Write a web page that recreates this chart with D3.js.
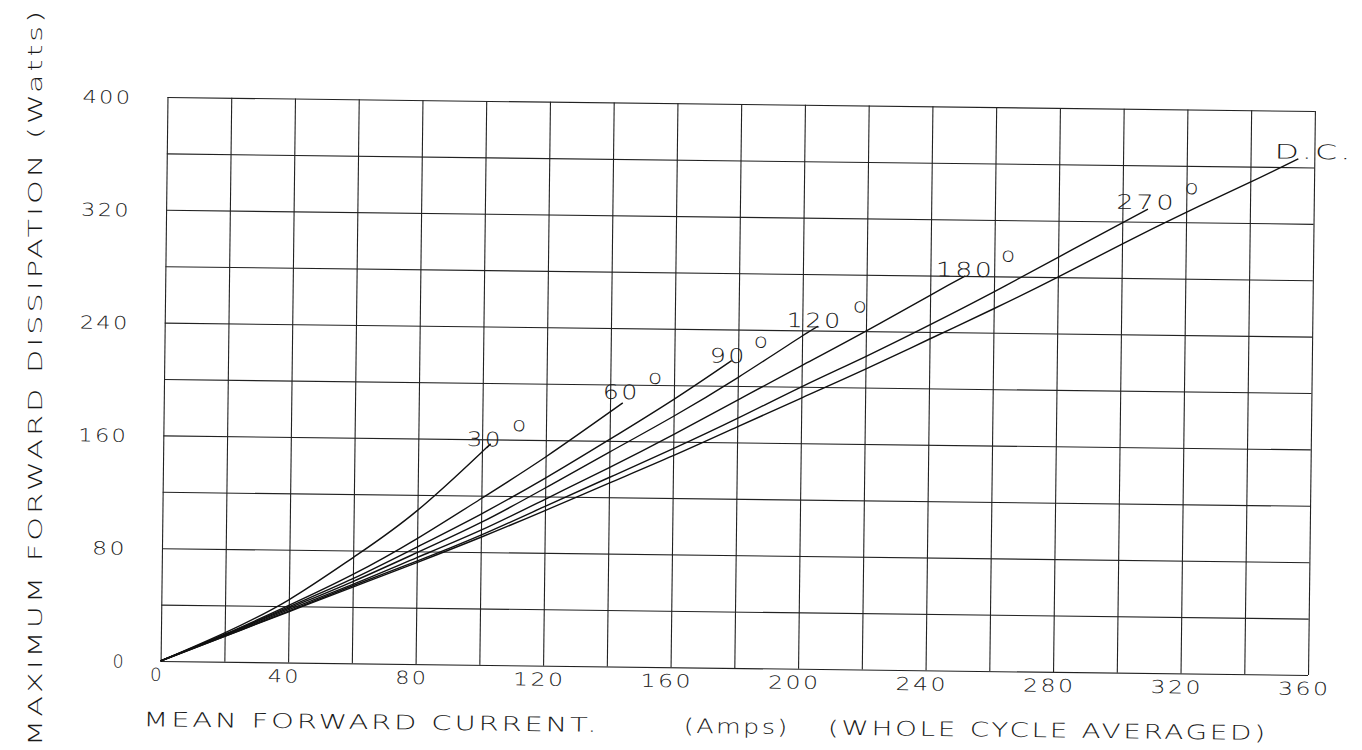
<!DOCTYPE html>
<html lang="en">
<head>
  <meta charset="UTF-8">
  <title>Maximum Forward Dissipation</title>
  <script src="https://d3js.org/d3.v7.min.js"></script>
  <style>
    body { margin: 0; background: #fff; }
    text { font-family: "DejaVu Sans", sans-serif; font-weight: 200; fill: #1a1a1a; }
  </style>
</head>
<body>
  <svg id="chart" width="1362" height="750"></svg>
  <script>
    // grid and tick values
    const xGridValues = [0, 20, 40, 60, 80, 100, 120, 140, 160, 180, 200, 220, 240, 260, 280, 300, 320, 340, 360];
    const yGridValues = [0, 40, 80, 120, 160, 200, 240, 280, 320, 360, 400];
    const xTickLabels = [0, 40, 80, 120, 160, 200, 240, 280, 320, 360];
    const yTickLabels = [0, 80, 160, 240, 320, 400];

    // curves: [mean current (A), dissipation (W)]
    const curve30 = [[0, 0], [20, 20.5], [40, 44.5], [60, 75], [80, 109], [100, 151], [101.5, 154]];
    const curve60 = [[0, 0], [20, 19.5], [40, 40.5], [60, 63], [80, 89], [100, 118], [120, 148], [144, 187]];
    const curve90 = [[0, 0], [20, 19], [40, 39.5], [60, 60], [80, 83], [100, 107], [120, 133], [140, 161], [160, 190], [178, 218]];
    const curve120 = [[0, 0], [20, 19], [40, 38.5], [60, 58], [80, 79], [100, 101], [120, 126], [140, 152], [160, 178], [180, 206], [200, 236], [205, 243]];
    const curve180 = [[0, 0], [20, 18.5], [40, 37.5], [60, 56], [80, 75.5], [100, 95.5], [120, 118], [140, 141], [160, 165], [180, 190], [200, 215], [220, 240], [240, 266], [251, 280]];
    const curve270 = [[0, 0], [20, 18], [40, 36.5], [60, 55], [80, 73], [100, 92], [120, 113], [140, 134], [160, 155], [180, 177], [200, 200], [220, 222], [240, 245], [260, 269], [280, 294], [300, 319], [308, 329]];
    const curveDC = [[0, 0], [20, 18], [40, 36], [60, 54], [80, 72], [100, 90.5], [120, 110], [140, 130], [160, 150], [180, 171], [200, 192], [220, 213], [240, 235], [260, 257], [280, 280], [300, 304], [320, 327], [340, 349], [355, 366]];

    const curveNames = ["30", "60", "90", "120", "180", "270", "D.C."];
    const curves = [curve30, curve60, curve90, curve120, curve180, curve270, curveDC];

    const svg = d3.select("#chart");
    svg.append("rect").attr("width", 1362).attr("height", 750).attr("fill", "#fff");

    const pLeft = 164, pRight = 1311.5, pTop = 104, pBottom = 668;
    const x = d3.scaleLinear().domain([0, 360]).range([pLeft, pRight]);
    const y = d3.scaleLinear().domain([0, 400]).range([pBottom, pTop]);

    // the scanned sheet sits slightly skewed
    const g = svg.append("g").attr("transform", "rotate(0.7, 737.5, 386.5)");

    // grid
    const gx = g.append("g")
      .attr("transform", `translate(0,${pBottom})`)
      .call(d3.axisBottom(x).tickValues(xGridValues).tickSize(-(pBottom - pTop)).tickFormat(""));
    const gy = g.append("g")
      .attr("transform", `translate(${pLeft},0)`)
      .call(d3.axisLeft(y).tickValues(yGridValues).tickSize(-(pRight - pLeft)).tickFormat(""));
    [gx, gy].forEach(a => {
      a.select(".domain").remove();
      a.selectAll(".tick line").attr("stroke", "#222").attr("stroke-width", 1.1);
    });

    // tick labels
    const digitLen = d => [13.5, 33, 52.5][String(d).length - 1];
    const lx = g.append("g")
      .attr("transform", `translate(0,${pBottom})`)
      .call(d3.axisBottom(x).tickValues(xTickLabels).tickSize(0));
    lx.select(".domain").remove();
    lx.selectAll("text")
      .attr("x", -4).attr("y", 20).attr("dy", 0)
      .attr("font-size", 18).attr("letter-spacing", 2)
      .attr("textLength", digitLen).attr("lengthAdjust", "spacingAndGlyphs");

    const ly = g.append("g")
      .attr("transform", `translate(${pLeft},0)`)
      .call(d3.axisLeft(y).tickValues(yTickLabels).tickSize(0));
    ly.select(".domain").remove();
    ly.selectAll("text")
      .attr("x", -35).attr("dy", 6.5)
      .attr("font-size", 18).attr("letter-spacing", 2)
      .attr("textLength", d => [13, 35, 50][String(d).length - 1]).attr("lengthAdjust", "spacingAndGlyphs");

    // curves
    const line = d3.line().x(d => x(d[0])).y(d => y(d[1])).curve(d3.curveNatural);
    g.selectAll("path.curve").data(curves).join("path")
      .attr("class", "curve")
      .attr("d", line)
      .attr("fill", "none")
      .attr("stroke", "#111")
      .attr("stroke-width", 1.4);

    // curve labels, placed from the end of each curve
    const labelPos = {
      "30":   { dx: -20,   dy: -1.6, len: 36,   deg: 45 },
      "60":   { dx: -20,   dy: -4,   len: 37,   deg: 45 },
      "90":   { dx: -22,   dy: 2.3,  len: 37,   deg: 44 },
      "120":  { dx: -31.6, dy: 1,    len: 56,   deg: 66 },
      "180":  { dx: -29.7, dy: 0.6,  len: 58.7, deg: 65 },
      "270":  { dx: -31.6, dy: 0,    len: 60,   deg: 68 },
      "D.C.": { dx: -24,   dy: 0,    len: 79,   deg: null }
    };
    curves.forEach((pts, i) => {
      const name = curveNames[i];
      const p = labelPos[name];
      const end = pts[pts.length - 1];
      const ex = x(end[0]) + p.dx, ey = y(end[1]) + p.dy;
      g.append("text")
        .attr("x", ex).attr("y", ey)
        .attr("font-size", 20).attr("letter-spacing", 2)
        .attr("textLength", p.len).attr("lengthAdjust", "spacingAndGlyphs")
        .text(name);
      if (p.deg !== null) {
        g.append("text")
          .attr("x", ex + p.deg).attr("y", ey - 15.6)
          .attr("font-size", 20)
          .attr("textLength", 14).attr("lengthAdjust", "spacingAndGlyphs")
          .text("o");
      }
    });

    // x axis title
    const xTitle = [
      { t: "MEAN FORWARD CURRENT.", x0: 147.5, len: 456 },
      { t: "(Amps)", x0: 688, len: 106 },
      { t: "(WHOLE CYCLE AVERAGED)", x0: 832, len: 440 }
    ];
    g.selectAll("text.xtitle").data(xTitle).join("text")
      .attr("class", "xtitle")
      .attr("x", d => d.x0).attr("y", pBottom + 65.5)
      .attr("font-size", 20).attr("letter-spacing", 2)
      .attr("textLength", d => d.len).attr("lengthAdjust", "spacingAndGlyphs")
      .text(d => d.t);

    // y axis title (stands upright on the sheet)
    svg.append("text")
      .attr("transform", "translate(42,746) rotate(-90)")
      .attr("font-size", 20).attr("letter-spacing", 2)
      .attr("textLength", 738).attr("lengthAdjust", "spacingAndGlyphs")
      .text("MAXIMUM FORWARD DISSIPATION (Watts)");
  </script>
</body>
</html>
